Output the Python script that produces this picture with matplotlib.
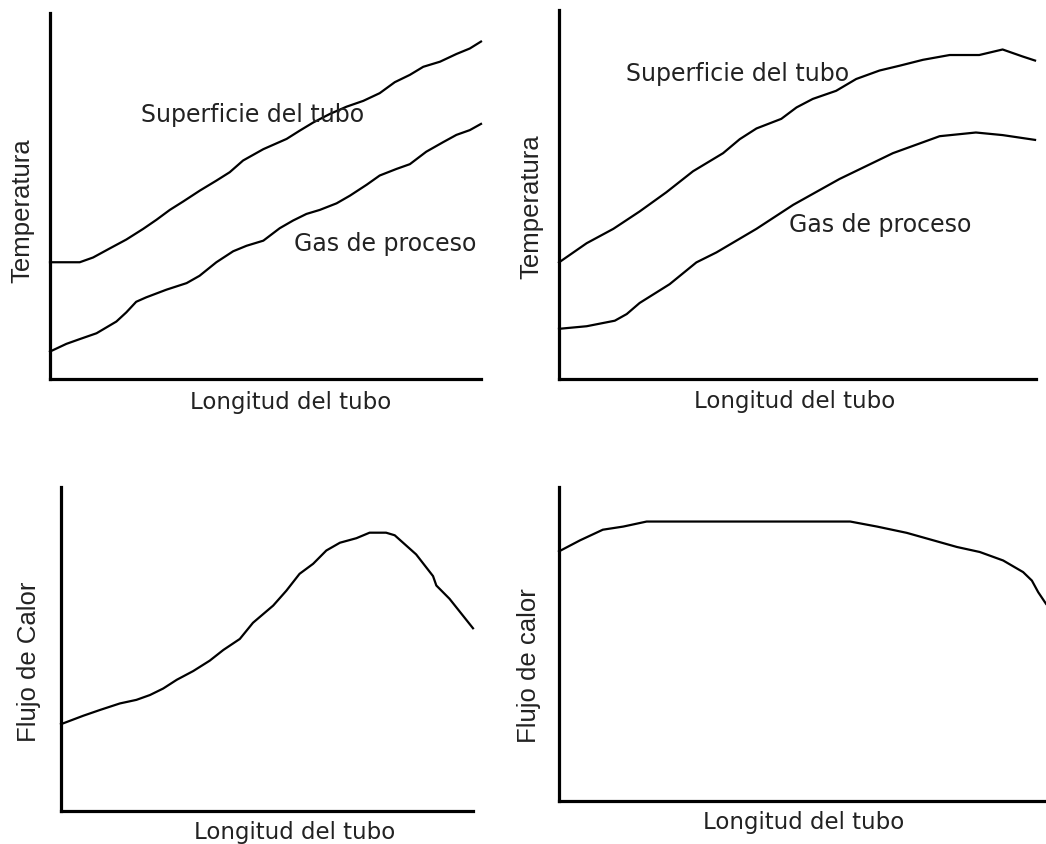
import matplotlib
matplotlib.use("Agg")
import matplotlib.pyplot as plt

# ---------------- data (normalised tube length 0-100, arbitrary units) ----------------
# Panel 1 (top-left): temperature profiles
p1_sup_x = [0, 6.9, 10.0, 13.9, 17.7, 21.6, 24.7, 27.8, 30.9, 34.8, 38.6, 41.7, 44.8, 49.5,
            54.9, 58.0, 61.1, 64.9, 68.8, 72.7, 76.5, 80.0, 83.5, 86.6, 90.5, 94.3, 97.4, 100]
p1_sup_y = [31.9, 31.9, 33.2, 35.7, 38.1, 41.0, 43.5, 46.2, 48.5, 51.5, 54.2, 56.5, 59.7, 62.8,
            65.6, 67.9, 70.1, 72.4, 74.4, 76.0, 78.1, 81.1, 83.1, 85.3, 86.7, 88.8, 90.3, 92.2]
p1_gas_x = [0, 3.8, 6.9, 10.8, 15.4, 17.7, 20.0, 22.3, 27.0, 31.7, 34.7, 38.6, 42.5, 45.6, 49.5,
            53.3, 56.4, 59.5, 62.6, 66.5, 69.6, 73.5, 76.5, 80.4, 83.5, 87.3, 91.2, 94.3, 97.4, 100]
p1_gas_y = [7.5, 9.6, 10.9, 12.5, 15.7, 18.2, 21.1, 22.3, 24.4, 26.2, 28.2, 31.9, 34.9, 36.4, 37.8,
            41.2, 43.3, 45.1, 46.2, 48.0, 50.1, 53.1, 55.6, 57.4, 58.7, 62.1, 64.7, 66.7, 68.0, 69.7]

# Panel 2 (top-right): temperature profiles
p2_sup_x = [0, 5.8, 11.4, 16.9, 22.5, 28.1, 34.4, 37.9, 41.4, 46.6, 49.8, 53.2, 58.1, 62.3,
            67.2, 71.4, 76.3, 81.9, 88.1, 93.0, 97.2, 99.8]
p2_sup_y = [31.6, 36.8, 40.7, 45.4, 50.6, 56.3, 61.2, 65.0, 67.9, 70.5, 73.6, 75.9, 78.1, 81.3,
            83.6, 84.9, 86.5, 87.8, 87.8, 89.3, 87.4, 86.3]
p2_gas_x = [0, 5.8, 11.7, 14.2, 16.9, 23.2, 28.8, 33.0, 41.4, 49.1, 58.8, 70.0, 79.8, 87.4, 93.0, 99.8]
p2_gas_y = [13.6, 14.3, 15.8, 17.6, 20.6, 25.7, 31.6, 34.3, 40.7, 47.2, 54.2, 61.2, 65.8, 66.8, 66.1, 64.8]

# Panel 3 (bottom-left): heat flux
p3_x = [0, 5.4, 9.5, 14.3, 18.3, 21.6, 24.8, 28.1, 32.1, 36.1, 39.4, 43.4, 46.6, 51.5, 54.7,
        57.9, 61.2, 64.4, 67.7, 71.7, 74.9, 78.9, 81.0, 86.2, 90.3, 91.1, 94.3, 100]
p3_y = [26.8, 29.4, 31.2, 33.2, 34.3, 35.8, 37.8, 40.5, 43.2, 46.4, 49.7, 53.1, 58.1, 63.4, 68.0,
        73.2, 76.3, 80.4, 82.8, 84.2, 85.9, 85.9, 85.1, 79.2, 72.5, 69.6, 65.5, 56.4]

# Panel 4 (bottom-right): heat flux
p4_x = [0, 4.3, 9.0, 13.2, 18.0, 59.8, 65.3, 71.4, 76.9, 81.7, 86.4, 91.2, 95.3, 97.1, 98.4, 100]
p4_y = [79.5, 83.0, 86.4, 87.4, 89.0, 89.0, 87.4, 85.4, 83.0, 80.9, 79.3, 76.6, 72.9, 70.2, 66.5, 62.8]

xlabel_text = "Longitud del tubo"
ylabels = ["Temperatura", "Temperatura", "Flujo de Calor", "Flujo de calor"]
lbl_sup = "Superficie del tubo"
lbl_gas = "Gas de proceso"

# ---------------- layout ----------------
W, H = 1046, 845
fig = plt.figure(figsize=(W / 100, H / 100), dpi=100)
fig.patch.set_facecolor("white")


def add_ax(l, t, r, b):
    ax = fig.add_axes([l / W, 1 - b / H, (r - l) / W, (b - t) / H])
    ax.set_xlim(0, 100)
    ax.set_ylim(0, 100)
    for s in ("top", "right"):
        ax.spines[s].set_visible(False)
    for s in ("left", "bottom"):
        ax.spines[s].set_linewidth(2.3)
        ax.spines[s].set_color("black")
        ax.spines[s].set_capstyle("projecting")
    ax.set_xticks([])
    ax.set_yticks([])
    ax.patch.set_alpha(0)
    return ax


def ftext(x, y, s, **kw):
    fig.text(x / W, 1 - y / H, s, **kw)


LINE = dict(color="black", lw=1.6, solid_joinstyle="round", clip_on=False)
vfont = dict(family="Liberation Sans", fontsize=18.5, color="#222222", rotation=90,
             ha="center", va="center")
hfont = dict(family="DejaVu Sans", fontsize=16.5, color="#222222", ha="center", va="center")
ifont = dict(family="DejaVu Sans", fontsize=17, color="#222222", ha="center", va="center")

ax1 = add_ax(50, 14, 481, 380)
ax1.plot(p1_sup_x, p1_sup_y, **LINE)
ax1.plot(p1_gas_x, p1_gas_y, **LINE)

ax2 = add_ax(559, 11, 1036, 380)
ax2.plot(p2_sup_x, p2_sup_y, **LINE)
ax2.plot(p2_gas_x, p2_gas_y, **LINE)

ax3 = add_ax(61, 488, 473, 812)
ax3.plot(p3_x, p3_y, **LINE)

ax4 = add_ax(559, 488, 1046, 802)
ax4.plot(p4_x, p4_y, **LINE)

# y labels
ftext(22, 211, ylabels[0], **vfont)
ftext(531, 207, ylabels[1], **vfont)
ftext(29, 662, ylabels[2], **vfont)
ftext(529, 666, ylabels[3], **vfont)

# x labels
ftext(291, 403, xlabel_text, **hfont)
ftext(795, 402, xlabel_text, **hfont)
ftext(295, 833, xlabel_text, **hfont)
ftext(804, 823, xlabel_text, **hfont)

# curve annotations
ftext(253, 115, lbl_sup, **ifont)
ftext(385, 244, lbl_gas, **ifont)
ftext(738, 74, lbl_sup, **ifont)
ftext(880, 225, lbl_gas, **ifont)

fig.savefig("out.png", dpi=100, facecolor="white")
